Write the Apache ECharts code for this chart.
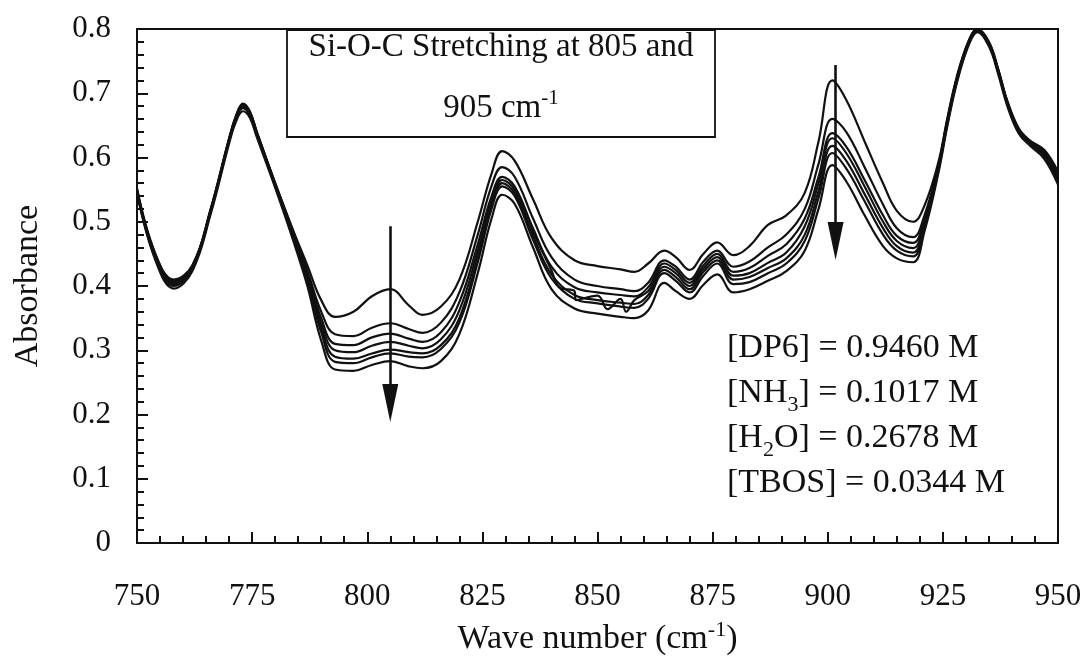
<!DOCTYPE html>
<html>
<head>
<meta charset="utf-8">
<script src="https://cdn.jsdelivr.net/npm/echarts@6/dist/echarts.min.js"></script>
<style>
html,body{margin:0;padding:0;background:#fff;}
#chart{width:1090px;height:665px;}
</style>
</head>
<body>
<div id="chart"></div>
<script>
// Wave numbers (cm-1) shared by all spectra
const wavenumbers = [750, 754, 758, 762, 766, 770, 771.5, 773, 774.5, 776, 780, 784, 787, 790, 793, 797, 801, 805, 809, 812, 816, 820, 824, 827, 829.3, 832, 836, 840, 845, 850, 855, 858, 861, 864.5, 867, 870, 873, 876, 879.5, 883, 887, 891, 895, 898, 901, 904, 908, 912, 915, 918.5, 921, 924, 926, 928, 930.5, 932.5, 935, 937, 939, 941.5, 944, 947, 950];

// Absorbance spectra (top to bottom in the 790-920 region)
const spectrum1 = [0.552, 0.450, 0.410, 0.432, 0.520, 0.630, 0.665, 0.684, 0.672, 0.640, 0.560, 0.485, 0.432, 0.378, 0.352, 0.360, 0.384, 0.395, 0.370, 0.355, 0.368, 0.410, 0.500, 0.575, 0.610, 0.595, 0.535, 0.475, 0.440, 0.431, 0.426, 0.422, 0.435, 0.455, 0.445, 0.425, 0.450, 0.468, 0.448, 0.462, 0.495, 0.510, 0.545, 0.625, 0.720, 0.690, 0.625, 0.560, 0.517, 0.500, 0.525, 0.592, 0.662, 0.725, 0.780, 0.800, 0.780, 0.738, 0.688, 0.645, 0.626, 0.612, 0.578];
const spectrum2 = [0.550, 0.449, 0.408, 0.431, 0.519, 0.629, 0.664, 0.683, 0.671, 0.640, 0.560, 0.483, 0.424, 0.360, 0.325, 0.322, 0.335, 0.342, 0.333, 0.327, 0.343, 0.390, 0.480, 0.556, 0.585, 0.570, 0.505, 0.445, 0.410, 0.400, 0.395, 0.392, 0.405, 0.440, 0.430, 0.410, 0.438, 0.455, 0.430, 0.438, 0.460, 0.480, 0.520, 0.590, 0.660, 0.640, 0.585, 0.527, 0.490, 0.476, 0.510, 0.587, 0.660, 0.723, 0.779, 0.800, 0.779, 0.737, 0.687, 0.644, 0.625, 0.610, 0.575];
const spectrum3 = [0.549, 0.447, 0.406, 0.430, 0.518, 0.628, 0.663, 0.682, 0.670, 0.639, 0.559, 0.481, 0.420, 0.350, 0.310, 0.308, 0.320, 0.326, 0.318, 0.313, 0.328, 0.375, 0.465, 0.540, 0.570, 0.555, 0.490, 0.430, 0.398, 0.390, 0.386, 0.384, 0.398, 0.435, 0.425, 0.405, 0.432, 0.450, 0.422, 0.428, 0.447, 0.465, 0.505, 0.570, 0.638, 0.617, 0.565, 0.510, 0.478, 0.467, 0.505, 0.585, 0.658, 0.722, 0.778, 0.799, 0.778, 0.736, 0.686, 0.643, 0.624, 0.608, 0.572];
const spectrum4 = [0.548, 0.446, 0.404, 0.429, 0.517, 0.627, 0.662, 0.680, 0.669, 0.638, 0.558, 0.479, 0.416, 0.342, 0.300, 0.297, 0.307, 0.313, 0.307, 0.303, 0.317, 0.362, 0.455, 0.533, 0.565, 0.550, 0.484, 0.424, 0.392, 0.385, 0.380, 0.378, 0.392, 0.430, 0.420, 0.400, 0.427, 0.445, 0.416, 0.420, 0.436, 0.452, 0.493, 0.560, 0.630, 0.607, 0.555, 0.500, 0.470, 0.459, 0.500, 0.583, 0.656, 0.720, 0.777, 0.798, 0.777, 0.735, 0.685, 0.642, 0.623, 0.606, 0.569];
const spectrum5 = [0.547, 0.445, 0.402, 0.428, 0.516, 0.626, 0.661, 0.679, 0.668, 0.637, 0.557, 0.477, 0.412, 0.335, 0.290, 0.287, 0.295, 0.301, 0.297, 0.295, 0.308, 0.350, 0.445, 0.525, 0.560, 0.545, 0.478, 0.418, 0.386, 0.378, 0.374, 0.372, 0.386, 0.425, 0.414, 0.395, 0.422, 0.440, 0.410, 0.414, 0.428, 0.443, 0.480, 0.548, 0.618, 0.595, 0.543, 0.490, 0.462, 0.452, 0.496, 0.581, 0.655, 0.719, 0.776, 0.797, 0.776, 0.734, 0.684, 0.641, 0.622, 0.604, 0.566];
const spectrum6 = [0.546, 0.443, 0.400, 0.426, 0.515, 0.625, 0.660, 0.677, 0.666, 0.636, 0.556, 0.474, 0.407, 0.328, 0.282, 0.280, 0.289, 0.295, 0.290, 0.289, 0.302, 0.343, 0.437, 0.520, 0.555, 0.540, 0.472, 0.412, 0.380, 0.373, 0.368, 0.366, 0.380, 0.420, 0.408, 0.390, 0.416, 0.435, 0.403, 0.406, 0.420, 0.435, 0.470, 0.537, 0.607, 0.583, 0.532, 0.480, 0.455, 0.446, 0.492, 0.579, 0.653, 0.718, 0.775, 0.796, 0.775, 0.733, 0.683, 0.640, 0.621, 0.602, 0.563];
const spectrum7 = [0.545, 0.440, 0.396, 0.423, 0.512, 0.622, 0.656, 0.672, 0.662, 0.632, 0.553, 0.469, 0.400, 0.315, 0.270, 0.268, 0.277, 0.283, 0.275, 0.272, 0.283, 0.325, 0.420, 0.505, 0.542, 0.528, 0.460, 0.395, 0.365, 0.357, 0.352, 0.350, 0.362, 0.405, 0.392, 0.380, 0.402, 0.418, 0.390, 0.395, 0.408, 0.423, 0.455, 0.520, 0.588, 0.563, 0.510, 0.462, 0.443, 0.437, 0.485, 0.575, 0.650, 0.715, 0.773, 0.795, 0.773, 0.730, 0.680, 0.637, 0.618, 0.598, 0.558];

// Small noise dips seen on one of the middle spectra (wave number, absorbance)
const noiseWavenumbers = [841.7, 845.3, 852.2, 856.2];
const noiseAbsorbance = [0.398, 0.378, 0.364, 0.360];

// Axis ticks
const xTicks = [750, 775, 800, 825, 850, 875, 900, 925, 950];
const yTicks = [0, 0.1, 0.2, 0.3, 0.4, 0.5, 0.6, 0.7, 0.8];

// Arrows: [wave number, top absorbance, bottom absorbance]
const arrow805 = [805, 0.493, 0.218];
const arrow900 = [901.7, 0.744, 0.47];

const spectra = [spectrum1, spectrum2, spectrum3, spectrum4, spectrum5, spectrum6, spectrum7];

function pairs(arr, withNoise) {
  let d = wavenumbers.map((w, i) => [w, arr[i]]);
  if (withNoise) {
    noiseWavenumbers.forEach((w, i) => d.push([w, noiseAbsorbance[i]]));
    d.sort((a, b) => a[0] - b[0]);
  }
  return d;
}

const FONT = "'Liberation Serif', 'DejaVu Serif', serif";
const INK = '#111';

const series = spectra.map((s, idx) => ({
  type: 'line',
  data: pairs(s, idx === 3),
  smooth: 0.4,
  showSymbol: false,
  symbol: 'none',
  lineStyle: { color: INK, width: 2.2 },
  z: 3,
  silent: true
}));

series.push({
  type: 'line',
  data: [],
  silent: true,
  markLine: {
    silent: true,
    symbol: ['none', 'triangle'],
    symbolSize: [16, 38],
    label: { show: false },
    lineStyle: { color: INK, width: 2.6, type: 'solid' },
    itemStyle: { color: INK },
    data: [
      [{ coord: [arrow805[0], arrow805[1]] }, { coord: [arrow805[0], arrow805[2]] }],
      [{ coord: [arrow900[0], arrow900[1]] }, { coord: [arrow900[0], arrow900[2]] }]
    ]
  }
});

const chart = echarts.init(document.getElementById('chart'), null, { renderer: 'canvas' });
chart.setOption({
  animation: false,
  backgroundColor: '#fff',
  grid: { left: 137, right: 32, top: 29, bottom: 122, show: true, borderColor: INK, borderWidth: 2, backgroundColor: 'transparent' },
  xAxis: {
    type: 'value',
    min: xTicks[0], max: xTicks[xTicks.length - 1], interval: 25,
    name: '{n|Wave number (cm}{s|-1}{n|)}',
    nameLocation: 'middle',
    nameGap: 76,
    nameTextStyle: {
      rich: {
        n: { fontFamily: FONT, fontSize: 34, color: INK, lineHeight: 40 },
        s: { fontFamily: FONT, fontSize: 22, color: INK, verticalAlign: 'top', lineHeight: 40 }
      }
    },
    axisLine: { show: true, lineStyle: { color: INK, width: 2 } },
    axisTick: { show: true, inside: true, length: 11, lineStyle: { color: INK, width: 2 } },
    minorTick: { show: true, splitNumber: 5, length: 7, lineStyle: { color: INK, width: 2 } },
    splitLine: { show: false },
    axisLabel: { fontFamily: FONT, fontSize: 31, color: INK, margin: 38 }
  },
  yAxis: {
    type: 'value',
    min: yTicks[0], max: yTicks[yTicks.length - 1], interval: 0.1,
    name: 'Absorbance',
    nameLocation: 'middle',
    nameGap: 92,
    nameTextStyle: { fontFamily: FONT, fontSize: 34, color: INK },
    axisLine: { show: true, lineStyle: { color: INK, width: 2 } },
    axisTick: { show: true, inside: true, length: 11, lineStyle: { color: INK, width: 2 } },
    minorTick: { show: true, splitNumber: 5, length: 7, lineStyle: { color: INK, width: 2 } },
    splitLine: { show: false },
    axisLabel: { fontFamily: FONT, fontSize: 31, color: INK, margin: 26, formatter: v => (Math.round(v * 10) / 10).toString() }
  },
  series: series,
  graphic: [
    {
      type: 'rect',
      shape: { x: 287, y: 30, width: 428, height: 107 },
      style: { fill: '#fff', stroke: INK, lineWidth: 1.8 },
      z: 10
    },
    {
      type: 'text',
      x: 501, y: 47,
      style: {
        text: 'Si-O-C Stretching at 805 and',
        fontFamily: FONT, fontSize: 33, fill: INK,
        align: 'center', verticalAlign: 'middle'
      },
      z: 11
    },
    {
      type: 'text',
      x: 501, y: 108,
      style: {
        text: '{n|905 cm}{s|-1}',
        align: 'center', verticalAlign: 'middle',
        rich: {
          n: { fontFamily: FONT, fontSize: 33, fill: INK, lineHeight: 40 },
          s: { fontFamily: FONT, fontSize: 21, fill: INK, verticalAlign: 'top', lineHeight: 40 }
        }
      },
      z: 11
    },
    {
      type: 'text',
      x: 727, y: 326,
      style: {
        text: '{n|[DP6] = 0.9460 M}\n{n|[NH}{b|3}{n|] = 0.1017 M}\n{n|[H}{b|2}{n|O] = 0.2678 M}\n{n|[TBOS] = 0.0344 M}',
        align: 'left', verticalAlign: 'top',
        rich: {
          n: { fontFamily: FONT, fontSize: 34, fill: INK, lineHeight: 45 },
          b: { fontFamily: FONT, fontSize: 22, fill: INK, verticalAlign: 'bottom', lineHeight: 40 }
        }
      },
      z: 11
    }
  ]
});
</script>
</body>
</html>
